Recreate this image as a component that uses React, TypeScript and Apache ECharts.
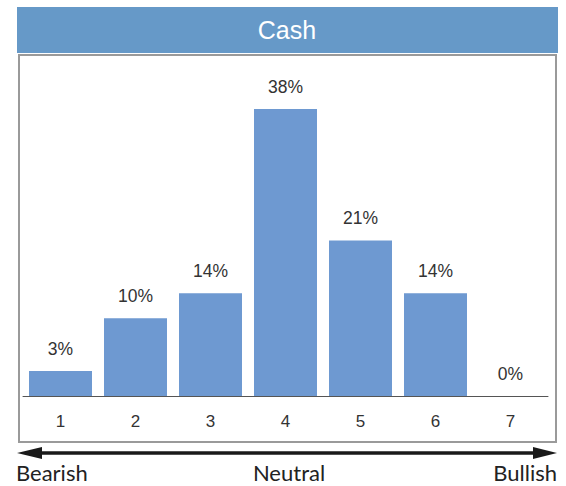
import React, { useEffect, useRef } from "react";
import * as echarts from "echarts";

const categories = ["1", "2", "3", "4", "5", "6", "7"];
const values = [3.3, 10.3, 13.6, 38, 20.6, 13.6, 0];
const labels = ["3%", "10%", "14%", "38%", "21%", "14%", "0%"];
const title = "Cash";
const scaleLabels = ["Bearish", "Neutral", "Bullish"];

export default function App() {
  const ref = useRef<HTMLDivElement>(null);
  useEffect(() => {
    document.body.style.margin = "0";
    const chart = echarts.init(ref.current!, null, { renderer: "svg" });
    const font = "Liberation Sans, Arial, sans-serif";
    chart.setOption({
      animation: false,
      backgroundColor: "#ffffff",
      grid: { left: 23, right: 18, top: 94, bottom: 90, containLabel: false },
      xAxis: {
        type: "category",
        data: categories,
        axisLine: { lineStyle: { color: "#555555", width: 1 } },
        axisTick: { show: false },
        axisLabel: { color: "#333333", fontSize: 17, margin: 17, fontFamily: font },
      },
      yAxis: { type: "value", min: 0, max: 40, show: false, splitLine: { show: false } },
      series: [
        {
          type: "bar",
          data: values,
          barWidth: 63,
          itemStyle: { color: "#6e99d1" },
          label: {
            show: true,
            position: "top",
            distance: 13,
            color: "#333333",
            fontSize: 17.5,
            fontFamily: font,
            formatter: (p: any) => labels[p.dataIndex],
          },
        },
      ],
      graphic: [
        { type: "rect", shape: { x: 19, y: 55, width: 537, height: 387 }, style: { fill: "none", stroke: "#9a9a9a", lineWidth: 2 }, z: -1 },
        { type: "rect", shape: { x: 17, y: 7, width: 541, height: 46 }, style: { fill: "#6699c8" } },
        { type: "text", x: 287, y: 30, style: { text: title, fill: "#ffffff", fontSize: 25, fontFamily: font, align: "center", verticalAlign: "middle" } },
        { type: "line", shape: { x1: 36, y1: 453, x2: 540, y2: 453 }, style: { stroke: "#1a1a1a", lineWidth: 3.5 } },
        { type: "polygon", shape: { points: [[17, 453], [42, 447], [42, 459]] }, style: { fill: "#1a1a1a" } },
        { type: "polygon", shape: { points: [[557, 453], [533, 447], [533, 459]] }, style: { fill: "#1a1a1a" } },
        { type: "text", x: 16, y: 472, style: { text: scaleLabels[0], fill: "#222222", fontSize: 22, fontFamily: "Lato, sans-serif", align: "left", verticalAlign: "middle" } },
        { type: "text", x: 289, y: 472, style: { text: scaleLabels[1], fill: "#222222", fontSize: 22, fontFamily: "Lato, sans-serif", align: "center", verticalAlign: "middle" } },
        { type: "text", x: 557, y: 472, style: { text: scaleLabels[2], fill: "#222222", fontSize: 22, fontFamily: "Lato, sans-serif", align: "right", verticalAlign: "middle" } },
      ],
    });
    return () => chart.dispose();
  }, []);
  return <div ref={ref} style={{ width: 566, height: 486 }} />;
}
